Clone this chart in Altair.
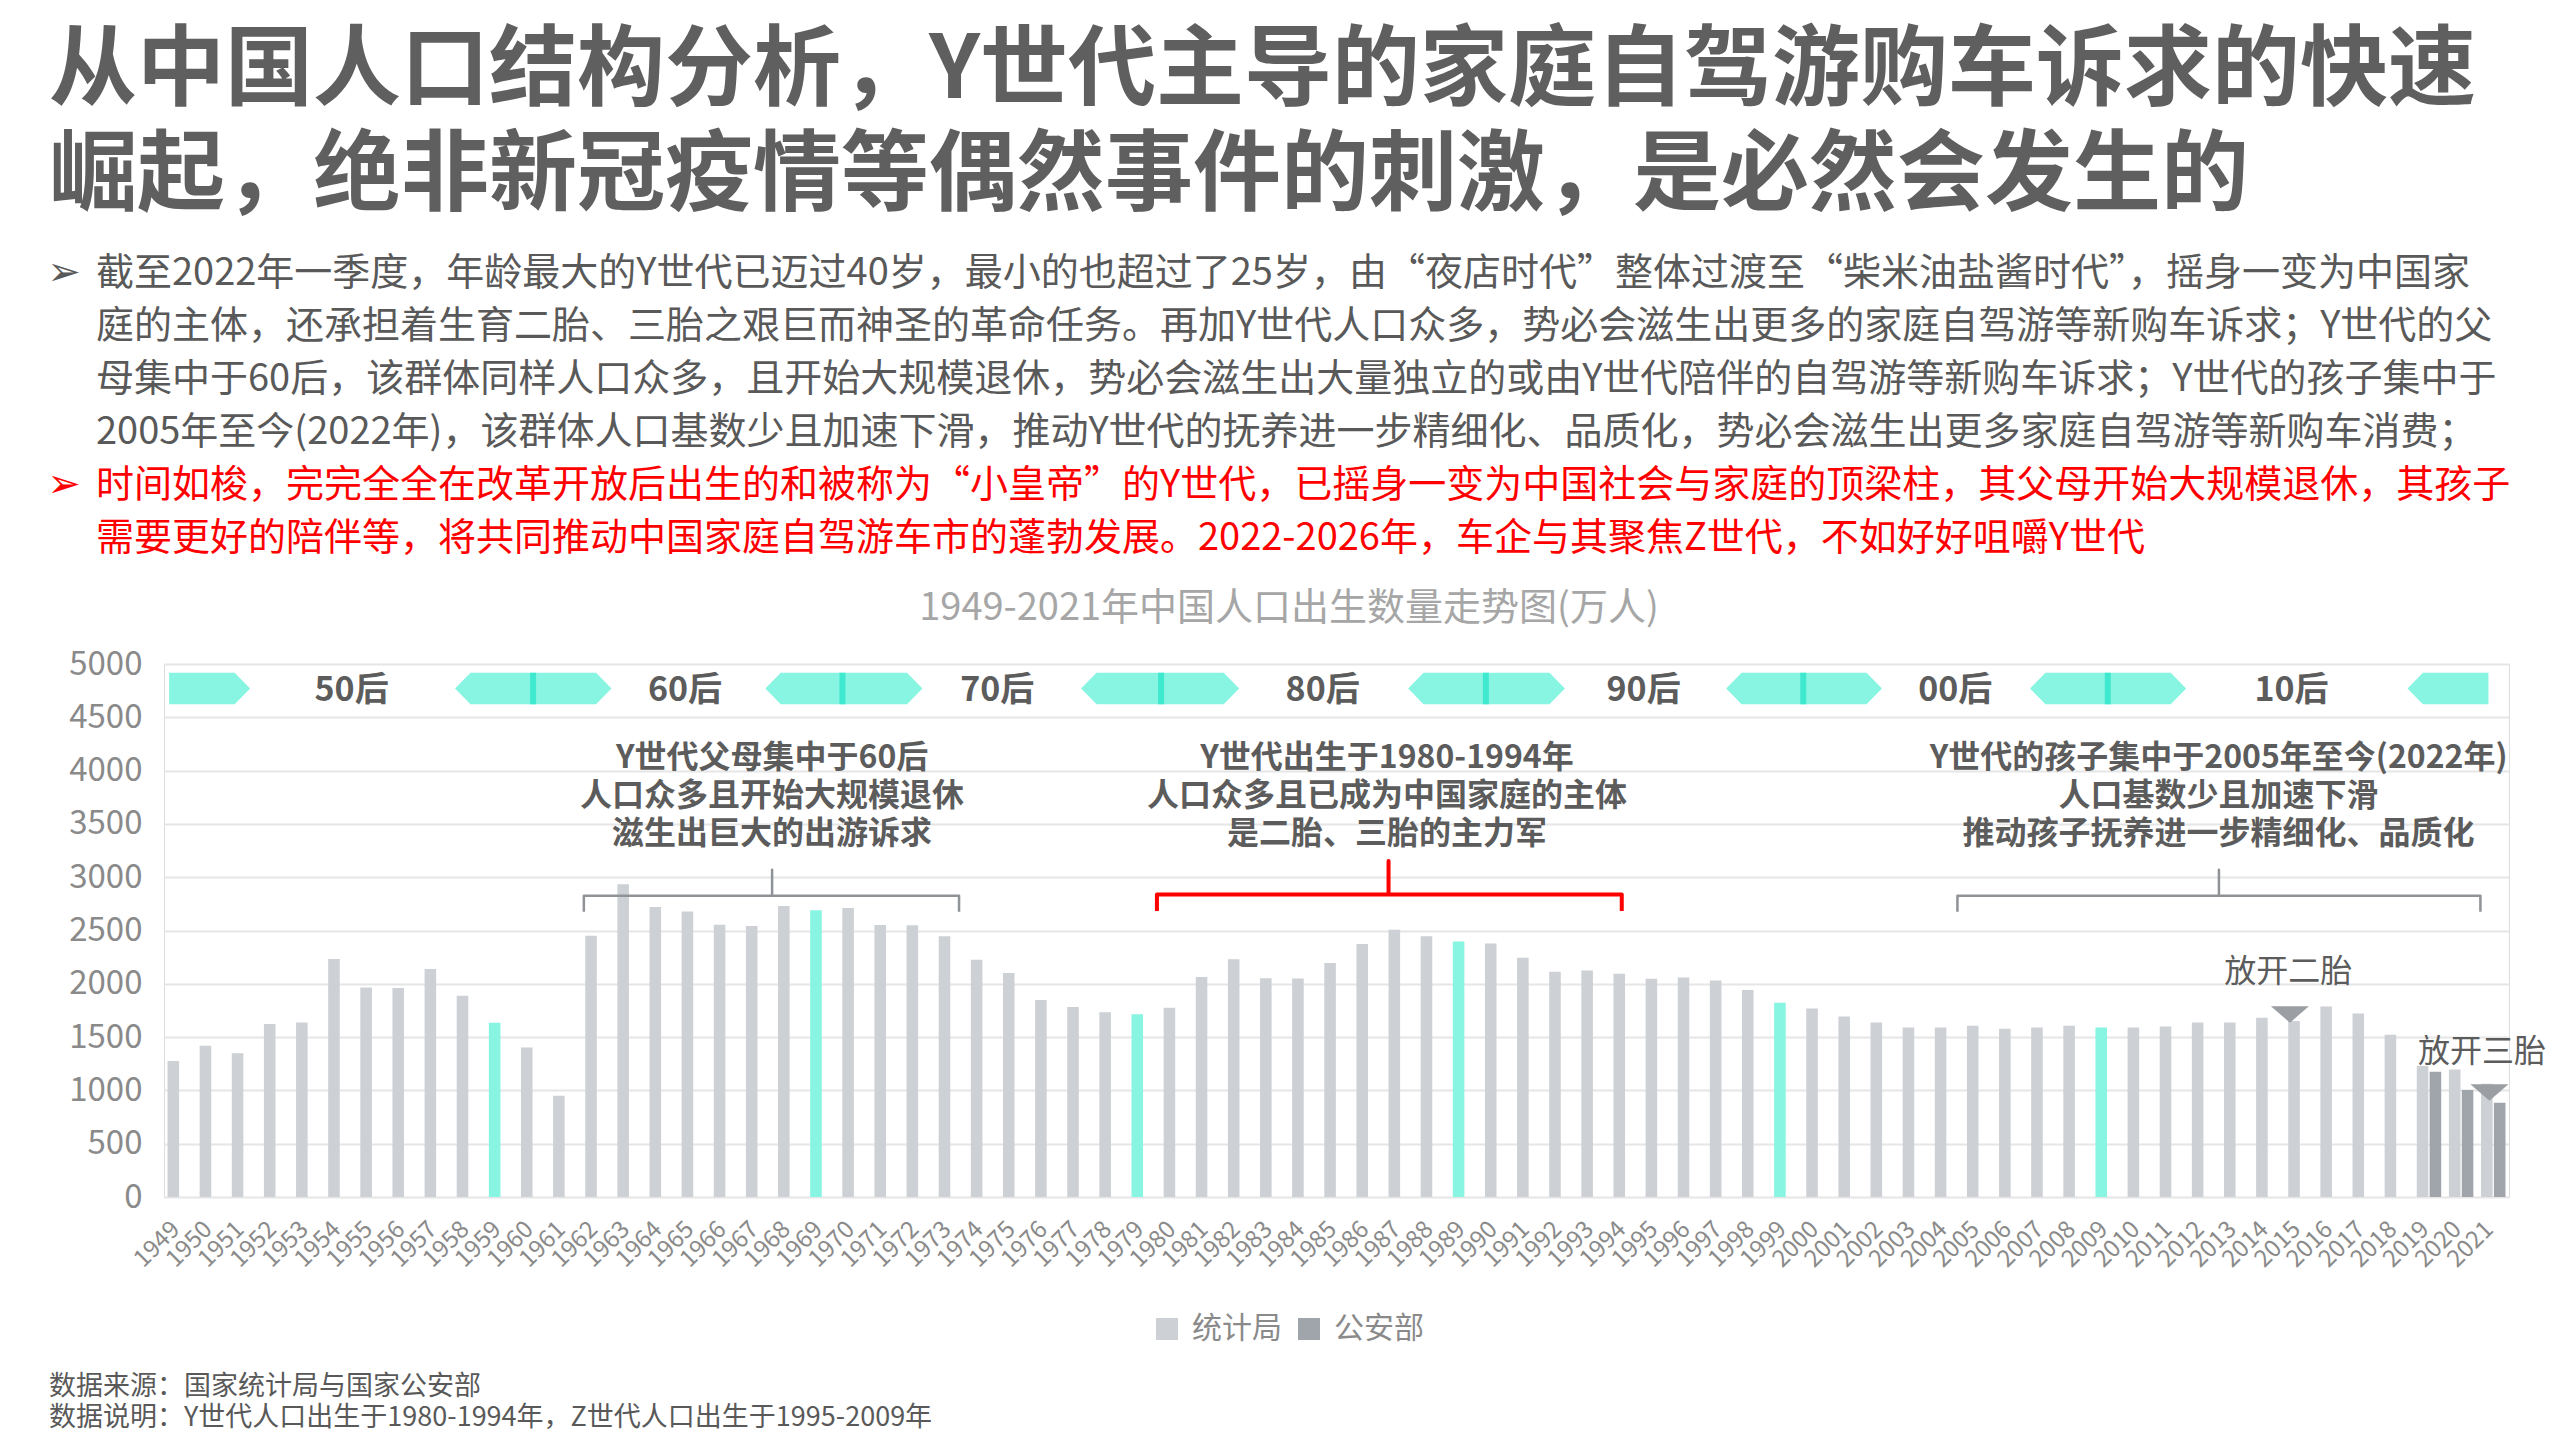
import altair as alt
import pandas as pd

# ---------------- data ----------------
years = list(range(1949, 2022))
births_nbs = [1275, 1419, 1349, 1622, 1637, 2232, 1965, 1961, 2138, 1889,
              1635, 1403, 949, 2451, 2934, 2721, 2679, 2554, 2543, 2731,
              2690, 2710, 2551, 2550, 2447, 2226, 2102, 1849, 1783, 1733,
              1715, 1776, 2064, 2230, 2052, 2050, 2196, 2374, 2508, 2445,
              2396, 2378, 2245, 2113, 2124, 2095, 2048, 2059, 2030, 1941,
              1822, 1768, 1693, 1636, 1589, 1589, 1607, 1578, 1589, 1607,
              1589, 1589, 1600, 1636, 1636, 1682, 1650, 1786, 1722, 1523,
              1465, 1195, 1062]
mps_years = [2019, 2020, 2021]
births_mps = [1175, 1003, 884]
highlight_years = [1959, 1969, 1979, 1989, 1999, 2009]
series_names = ["统计局", "公安部"]

title_lines = ["从中国人口结构分析，Y世代主导的家庭自驾游购车诉求的快速",
               "崛起，绝非新冠疫情等偶然事件的刺激，是必然会发生的"]
para_gray = ["截至2022年一季度，年龄最大的Y世代已迈过40岁，最小的也超过了25岁，由“夜店时代”整体过渡至“柴米油盐酱时代”，摇身一变为中国家",
             "庭的主体，还承担着生育二胎、三胎之艰巨而神圣的革命任务。再加Y世代人口众多，势必会滋生出更多的家庭自驾游等新购车诉求；Y世代的父",
             "母集中于60后，该群体同样人口众多，且开始大规模退休，势必会滋生出大量独立的或由Y世代陪伴的自驾游等新购车诉求；Y世代的孩子集中于",
             "2005年至今(2022年)，该群体人口基数少且加速下滑，推动Y世代的抚养进一步精细化、品质化，势必会滋生出更多家庭自驾游等新购车消费；"]
para_red = ["时间如梭，完完全全在改革开放后出生的和被称为“小皇帝”的Y世代，已摇身一变为中国社会与家庭的顶梁柱，其父母开始大规模退休，其孩子",
            "需要更好的陪伴等，将共同推动中国家庭自驾游车市的蓬勃发展。2022-2026年，车企与其聚焦Z世代，不如好好咀嚼Y世代"]
chart_title = "1949-2021年中国人口出生数量走势图(万人)"
gen_labels = ["50后", "60后", "70后", "80后", "90后", "00后", "10后"]
notes_a = ["Y世代父母集中于60后", "人口众多且开始大规模退休", "滋生出巨大的出游诉求"]
notes_b = ["Y世代出生于1980-1994年", "人口众多且已成为中国家庭的主体", "是二胎、三胎的主力军"]
notes_c = ["Y世代的孩子集中于2005年至今(2022年)", "人口基数少且加速下滑", "推动孩子抚养进一步精细化、品质化"]
policy_labels = ["放开二胎", "放开三胎"]
source_lines = ["数据来源：国家统计局与国家公安部",
                "数据说明：Y世代人口出生于1980-1994年，Z世代人口出生于1995-2009年"]

# ---------------- layout / style ----------------
FONT = "Noto Sans CJK SC"
W, H = 2345, 533
N = len(years)
LIGHT, DARK, TEAL, TEAL_D = "#cdd0d4", "#a0a4ab", "#88f4e2", "#3fe9cf"
TXT, LBL = "#5c5c5c", "#8a8a8a"

# ribbons in band-index units: (start, end, pointed left, pointed right)
ribbons = [(0.16, 2.68, False, True), (9.06, 13.93, True, True), (18.72, 23.61, True, True),
           (28.55, 33.47, True, True), (38.73, 43.61, True, True), (48.63, 53.48, True, True),
           (58.09, 62.95, True, True), (69.84, 72.36, True, False)]
dividers = [11.49, 21.12, 31.04, 41.15, 51.03, 60.51]
gen_pos = [5.84, 16.22, 25.94, 36.07, 46.06, 55.76, 66.23]
RB, RT, RM, D = 4622, 4918, 4770, 0.48

xq = alt.Scale(domain=[0, N], nice=False, zero=False)
yq = alt.Scale(domain=[0, 5000], nice=False)


def X(f="ix"):
    return alt.X(f"{f}:Q", scale=xq, axis=None)


def Y(f="v"):
    return alt.Y(f"{f}:Q", scale=yq, axis=None)


# bars
rows = [{"year": y, "series": "统计局", "v": v} for y, v in zip(years, births_nbs)]
rows += [{"year": y, "series": "公安部", "v": v} for y, v in zip(mps_years, births_mps)]
bars_df = pd.DataFrame(rows)

bars = alt.Chart(bars_df).mark_bar().encode(
    x=alt.X("year:O", scale=alt.Scale(paddingInner=0.24, paddingOuter=0.11),
            axis=alt.Axis(title=None, labelAngle=-45, labelFontSize=24, labelColor=LBL,
                          labelFont=FONT, domain=False, ticks=False, labelPadding=20,
                          labelOffset=-12, labelOverlap=False)),
    xOffset=alt.XOffset("series:N", scale=alt.Scale(domain=series_names, paddingInner=0.1,
                                                    paddingOuter=0)),
    y=alt.Y("v:Q", scale=yq,
            axis=alt.Axis(title=None, values=list(range(0, 5001, 500)), format="d",
                          labelFontSize=33, labelColor=LBL, labelFont=FONT, grid=True,
                          gridColor="#e6e6e6", gridWidth=2, domain=False, ticks=False,
                          labelPadding=22)),
    color=alt.condition(
        alt.FieldOneOfPredicate(field="year", oneOf=highlight_years),
        alt.value(TEAL),
        alt.Color("series:N", scale=alt.Scale(domain=series_names, range=[LIGHT, DARK]),
                  legend=alt.Legend(title=None, orient="none", legendX=988, legendY=650,
                                    direction="horizontal", symbolType="square",
                                    symbolSize=484, symbolStrokeWidth=0, labelFontSize=30,
                                    labelColor=LBL, labelFont=FONT, columnPadding=12,
                                    labelOffset=10, padding=0)),
    ),
)

# ribbons (generation band)
rib_rows = []
for k, (x0, x1, lp, rp) in enumerate(ribbons):
    pts = [(x0, RM, RM), (x0 + D, RB, RT)] if lp else [(x0, RB, RT)]
    pts += [(x1 - D, RB, RT), (x1, RM, RM)] if rp else [(x1, RB, RT)]
    for (ix, b, t) in pts:
        rib_rows.append({"rid": k, "ix": ix, "v": b, "v2": t})
rib = alt.Chart(pd.DataFrame(rib_rows)).mark_area(color=TEAL, opacity=1).encode(
    x=X(), y=Y(), y2="v2:Q", detail="rid:N")

div = alt.Chart(pd.DataFrame({"ix": dividers, "v": [RB] * len(dividers),
                              "v2": [RT] * len(dividers)})).mark_rule(
    color=TEAL_D, strokeWidth=6).encode(x=X(), y=Y(), y2="v2:Q")

gen = alt.Chart(pd.DataFrame({"ix": gen_pos, "v": [4745] * len(gen_pos), "t": gen_labels})).mark_text(
    font=FONT, fontSize=34, fontWeight="bold", color=TXT, baseline="middle").encode(
    x=X(), y=Y(), text="t:N")

# annotation texts
ann_rows = []
for cx, lines in [(18.93, notes_a), (38.07, notes_b), (63.96, notes_c)]:
    for i, t in enumerate(lines):
        ann_rows.append({"ix": cx, "v": 4121 - i * 358, "t": t})
ann = alt.Chart(pd.DataFrame(ann_rows)).mark_text(
    font=FONT, fontSize=32, fontWeight="bold", color=TXT, baseline="middle").encode(
    x=X(), y=Y(), text="t:N")


def bracket(x0, x1, xc, yh, ye, yt, bid):
    pts = [(x0, ye), (x0, yh), (xc, yh), (xc, yt), (xc, yh), (x1, yh), (x1, ye)]
    return [{"b": bid, "o": i, "ix": p[0], "v": p[1]} for i, p in enumerate(pts)]


gray_br = pd.DataFrame(bracket(13.07, 24.75, 18.93, 2827, 2676, 3071, 0)
                       + bracket(55.83, 72.11, 63.97, 2827, 2676, 3071, 1))
red_br = pd.DataFrame(bracket(30.91, 45.38, 38.12, 2838, 2683, 3152, 0))
br1 = alt.Chart(gray_br).mark_line(color="#8f9296", strokeWidth=2.5, strokeJoin="round").encode(
    x=X(), y=Y(), detail="b:N", order="o:Q")
br2 = alt.Chart(red_br).mark_line(color="#ff0000", strokeWidth=4, strokeJoin="round").encode(
    x=X(), y=Y(), order="o:Q")

# policy markers
mask = alt.Chart(pd.DataFrame({"ix": [70.05], "ix2": [70.6], "v": [1230], "v2": [1480]})).mark_rect(
    color="white").encode(x=X(), x2="ix2:Q", y=Y(), y2="v2:Q")
tri = alt.Chart(pd.DataFrame({"ix": [66.18, 72.39], "v": [1712, 980]})).mark_point(
    shape="M-1,-0.43L1,-0.43L0,0.43Z", size=1444, filled=True, opacity=1,
    color="#9b9ea3").encode(x=X(), y=Y())
pol = alt.Chart(pd.DataFrame({"ix": [66.13, 72.16], "v": [2111, 1360], "t": policy_labels})).mark_text(
    font=FONT, fontSize=32, color=TXT, baseline="middle").encode(x=X(), y=Y(), text="t:N")


# page texts (pixel positions relative to the plot origin)
def ptext(items, font=FONT, **kw):
    df = pd.DataFrame(items, columns=["px", "py", "t"])
    return alt.Chart(df).mark_text(font=font, baseline="middle", **kw).encode(
        x=alt.X("px:Q", scale=None, axis=None), y=alt.Y("py:Q", scale=None, axis=None),
        text="t:N")


big_title = ptext([(-115, -592 + i * 105, t) for i, t in enumerate(title_lines)],
                  fontSize=88, fontWeight="bold", color="#5f5f5f", align="left")
p_gray = ptext([(-68, -390 + i * 53, t) for i, t in enumerate(para_gray)],
               fontSize=38, color="#595959", align="left")
p_red = ptext([(-68, -178 + i * 53, t) for i, t in enumerate(para_red)],
              fontSize=38, color="#ff0000", align="left")
bul_g = ptext([(-100, -391, "➢")], font="DejaVu Sans", fontSize=40, color="#595959", align="center")
bul_r = ptext([(-100, -179, "➢")], font="DejaVu Sans", fontSize=40, color="#ff0000", align="center")
ctitle = ptext([(1125, -55, chart_title)], fontSize=38, color="#a6a6a6", align="center")
src = ptext([(-115, 723 + i * 31, t) for i, t in enumerate(source_lines)],
            fontSize=27, color="#595959", align="left")

chart = alt.layer(
    bars, mask, rib, div, gen, br1, br2, ann, tri, pol,
    big_title, p_gray, p_red, bul_g, bul_r, ctitle, src,
).resolve_scale(x="independent", y="independent").properties(
    width=W, height=H,
    autosize=alt.AutoSizeParams(type="none"),
    padding={"left": 156, "top": 656, "right": 40, "bottom": 234},
).configure_view(stroke=None).configure(font=FONT, background="white")

chart.save("out.html", embed_options={"renderer": "svg", "actions": False})
